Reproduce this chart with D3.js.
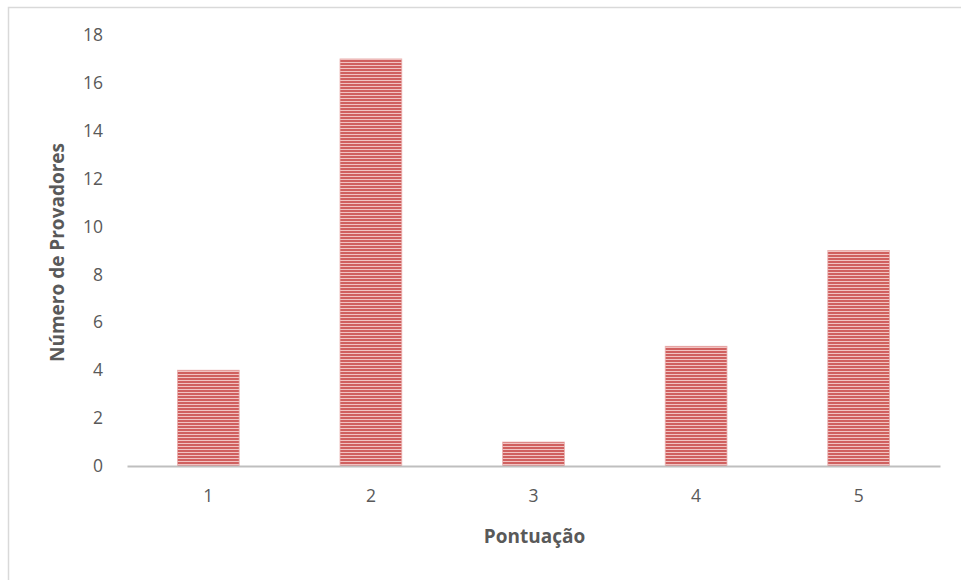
<!DOCTYPE html>
<html>
<head>
<meta charset="utf-8">
<script src="https://cdn.jsdelivr.net/npm/d3@7"></script>
<style>
  html, body { margin: 0; padding: 0; background: #fff; }
  svg { display: block; }
</style>
</head>
<body>
<script>
// Scores given by the tasters and how many tasters gave each one
const categories = ["1", "2", "3", "4", "5"];
const values = [4, 17, 1, 5, 9];
const yTicks = [0, 2, 4, 6, 8, 10, 12, 14, 16, 18];
const xTitle = "Pontuação";
const yTitle = "Número de Provadores";

const W = 961, H = 580;
const margin = { left: 127, right: 21, top: 35, bottom: 114 };

const svg = d3.select("body").append("svg")
  .attr("width", W).attr("height", H);

// striped fill for the bars
const defs = svg.append("defs");
const pat = defs.append("pattern")
  .attr("id", "stripes")
  .attr("patternUnits", "userSpaceOnUse")
  .attr("width", 8).attr("height", 3);
pat.append("rect").attr("width", 8).attr("height", 3).attr("fill", "#f1c3c2");
pat.append("rect").attr("width", 8).attr("height", 2).attr("fill", "#d0605f");

// chart area frame
svg.append("rect")
  .attr("x", 8.5).attr("y", 7.5)
  .attr("width", W).attr("height", H)
  .attr("fill", "none").attr("stroke", "#d9d9d9").attr("stroke-width", 1.5);

const x = d3.scaleBand()
  .domain(categories)
  .range([margin.left, W - margin.right])
  .paddingInner(0.62).paddingOuter(0.31);

const y = d3.scaleLinear()
  .domain([0, 18])
  .range([H - margin.bottom, margin.top]);

const font = "'Open Sans', 'Liberation Sans', sans-serif";

// bars
svg.append("g").selectAll("rect")
  .data(values)
  .join("rect")
  .attr("x", (d, i) => x(categories[i]))
  .attr("y", d => y(d))
  .attr("width", x.bandwidth())
  .attr("height", d => y(0) - y(d))
  .attr("fill", "url(#stripes)")
  .attr("stroke", "#eab0af")
  .attr("stroke-width", 0.8);

// y axis labels (no axis line)
const yAxis = svg.append("g")
  .attr("transform", `translate(${margin.left - 24},0)`)
  .call(d3.axisLeft(y).tickValues(yTicks).tickSize(0).tickPadding(0));
yAxis.select(".domain").remove();
yAxis.selectAll("text")
  .attr("fill", "#595959")
  .style("font-family", font)
  .style("font-size", "17.5px");

// x axis
const xAxis = svg.append("g")
  .attr("transform", `translate(0,${y(0)})`)
  .call(d3.axisBottom(x).tickSize(0).tickPadding(24));
xAxis.select(".domain")
  .attr("stroke", "#bfbfbf").attr("stroke-width", 2.2);
xAxis.selectAll("text")
  .attr("fill", "#595959")
  .style("font-family", font)
  .style("font-size", "17.5px");

// axis titles
svg.append("text")
  .attr("x", (margin.left + W - margin.right) / 2 + 1)
  .attr("y", 543)
  .attr("text-anchor", "middle")
  .attr("fill", "#595959")
  .style("font-family", font)
  .style("font-size", "19px")
  .style("font-weight", "bold")
  .text(xTitle);

svg.append("text")
  .attr("transform", `translate(64,${(margin.top + H - margin.bottom) / 2 + 2}) rotate(-90)`)
  .attr("text-anchor", "middle")
  .attr("fill", "#595959")
  .style("font-family", font)
  .style("font-size", "19px")
  .style("font-weight", "bold")
  .text(yTitle);
</script>
</body>
</html>
